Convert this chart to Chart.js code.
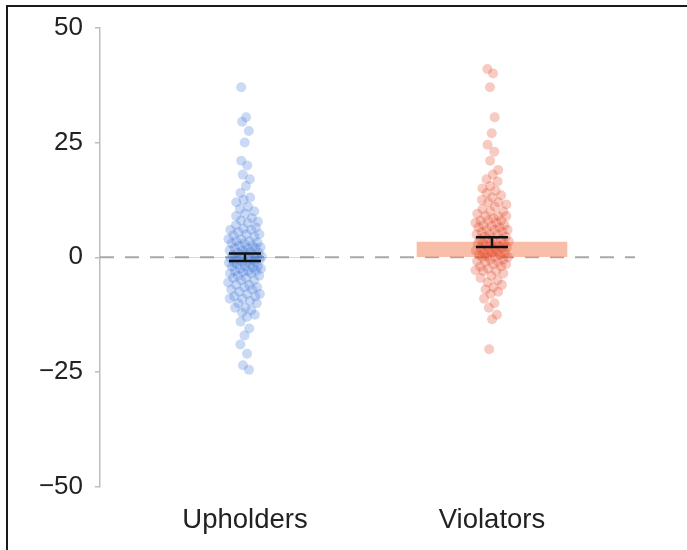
<!DOCTYPE html>
<html><head><meta charset="utf-8">
<script src="https://cdn.jsdelivr.net/npm/chart.js@4.4.1/dist/chart.umd.min.js"></script>
<style>
html,body{margin:0;padding:0;background:#fff;}
#wrap{position:relative;width:687px;height:550px;overflow:hidden;background:#fff;}
#frame{position:absolute;left:6px;top:5px;width:700px;height:600px;border-top:2px solid #1a1a1a;border-left:2px solid #1a1a1a;}
canvas{position:absolute;left:0;top:0;}
</style></head><body>
<div id="wrap"><div id="frame"></div><canvas id="c" width="687" height="550"></canvas></div>
<script>
const categories = ['Upholders', 'Violators'];
const yTicks = [-50, -25, 0, 25, 50];
const upholders = [37, 30.5, 29.5, 27.5, 25, 21, 20, 18, 17, 15.5, 14, 13, 12.5, 12, 11, 10.5, 10, 9.5, 9, 8.5, 8, 7.8, 7.5, 7, 6.5, 6.2, 6, 6, 5.5, 5, 5, 4.8, 4.5, 4, 4, 3.5, 3.5, 3.2, 3, 3, 2.5, 2.5, 2.2, 2, 2, 2, 1.5, 1.5, 1.2, 1, 1, 1, 0.5, 0.5, 0.5, 0.2, 0, 0, 0, 0, -0.2, -0.5, -0.5, -0.5, -1, -1, -1, -1, -1.2, -1.5, -1.5, -2, -2, -2, -2.2, -2.5, -2.5, -3, -3, -3, -3.2, -3.5, -3.5, -4, -4, -4.5, -4.5, -5, -5, -5.5, -6, -6, -6.5, -6.5, -7, -7, -7.5, -8, -8, -8.5, -8.5, -9, -9, -9.5, -10, -10, -11, -11, -11.5, -12, -12.5, -13, -14, -15.5, -17, -19, -21, -23.5, -24.5];
const violators = [41, 40, 37, 30.5, 27, 24.5, 23, 21, 19, 18, 17, 16.5, 15.5, 15, 14.5, 14, 13.5, 13, 12.5, 12, 12, 11.5, 11, 10.5, 10, 10, 9.5, 9, 9, 9, 8.5, 8, 8, 8, 7.5, 7.5, 7, 7, 6.8, 6.5, 6.5, 6, 6, 6, 5.5, 5.5, 5, 5, 5, 4.5, 4.5, 4.2, 4, 4, 4, 3.5, 3.5, 3.2, 3, 3, 3, 2.5, 2.5, 2.2, 2, 2, 2, 1.5, 1.5, 1.2, 1, 1, 1, 0.5, 0.5, 0.2, 0, 0, 0, -0.5, -0.5, -0.8, -1, -1, -1.5, -1.5, -2, -2, -2.5, -2.8, -3, -3, -3.5, -4, -4.5, -5, -5.5, -6, -6.5, -7, -7.5, -8, -9, -10, -11, -12.5, -13.5, -20];
const groupMeans = [0, 3.3];
const groupErrors = [0.8, 1.05];

const X_MIN = 0.413, X_MAX = 2.579, PX_PER_UNIT = 247;
function swarm(values, center) {
  return values.map((v, i) => {
    let c = 0;
    values.forEach(u => { if (Math.abs(u - v) <= 2.5) c++; });
    const halfPx = Math.min(17, 3 + 0.8 * c);
    const t = ((i * 0.6180339887) % 1) * 2 - 1;
    return { x: center + t * halfPx / PX_PER_UNIT, y: v };
  });
}

const zeroLine = {
  id: 'zeroLine',
  beforeDatasetsDraw(chart) {
    const { ctx, chartArea, scales: { y } } = chart;
    const py = y.getPixelForValue(0);
    ctx.save();
    ctx.strokeStyle = '#a8a8a8';
    ctx.lineWidth = 2;
    ctx.setLineDash([14, 11]);
    ctx.beginPath();
    ctx.moveTo(chartArea.left, py);
    ctx.lineTo(chartArea.right, py);
    ctx.stroke();
    ctx.restore();
  }
};
const errorBars = {
  id: 'errorBars',
  afterDatasetsDraw(chart) {
    const { ctx, scales: { x, y } } = chart;
    ctx.save();
    ctx.strokeStyle = '#111';
    ctx.lineWidth = 2.5;
    groupMeans.forEach((m, i) => {
      const cx = x.getPixelForValue(i + 1);
      const top = y.getPixelForValue(m + groupErrors[i]);
      const bot = y.getPixelForValue(m - groupErrors[i]);
      ctx.beginPath();
      ctx.moveTo(cx, top); ctx.lineTo(cx, bot);
      ctx.moveTo(cx - 16, top); ctx.lineTo(cx + 16, top);
      ctx.moveTo(cx - 16, bot); ctx.lineTo(cx + 16, bot);
      ctx.stroke();
    });
    ctx.restore();
  }
};

new Chart(document.getElementById('c'), {
  type: 'scatter',
  data: {
    datasets: [
      {
        type: 'bar',
        data: groupMeans.map((m, i) => ({ x: i + 1, y: m })),
        backgroundColor: ['rgba(120,160,230,0.5)', 'rgba(245,165,135,0.72)'],
        borderWidth: 0,
        barThickness: 150,
        order: 3
      },
      {
        data: swarm(upholders, 1),
        backgroundColor: 'rgba(60,115,215,0.27)',
        borderWidth: 0,
        pointRadius: 5,
        order: 1
      },
      {
        data: swarm(violators, 2),
        backgroundColor: 'rgba(225,70,35,0.28)',
        borderWidth: 0,
        pointRadius: 5,
        order: 1
      }
    ]
  },
  options: {
    responsive: false,
    animation: false,
    devicePixelRatio: 1,
    layout: { padding: { left: 0, right: 52, top: 22, bottom: 0 } },
    plugins: { legend: { display: false }, tooltip: { enabled: false } },
    scales: {
      x: {
        type: 'linear',
        offset: false,
        min: X_MIN, max: X_MAX,
        grid: { display: false, offset: false },
        border: { display: false },
        afterBuildTicks(s) { s.ticks = categories.map((c, i) => ({ value: i + 1 })); },
        afterFit(s) { s.height = 63; },
        ticks: {
          padding: 9,
          color: '#222',
          font: { family: '"Liberation Sans", Arial, sans-serif', size: 27.5 },
          callback: (v) => categories[Math.round(v) - 1]
        }
      },
      y: {
        min: -50, max: 50,
        afterBuildTicks(s) { s.ticks = yTicks.map(v => ({ value: v })); },
        afterFit(s) { s.width = 100; },
        grid: { display: true, drawOnChartArea: false, drawTicks: true, tickLength: 5, color: '#bdbdbd', lineWidth: 1.5 },
        border: { display: true, color: '#bdbdbd', width: 1.5 },
        ticks: {
          padding: 12,
          color: '#222',
          font: { family: '"Liberation Sans", Arial, sans-serif', size: 26 },
          callback: (v) => v < 0 ? '\u2212' + Math.abs(v) : String(v)
        }
      }
    }
  },
  plugins: [zeroLine, errorBars]
});
</script>
</body></html>
